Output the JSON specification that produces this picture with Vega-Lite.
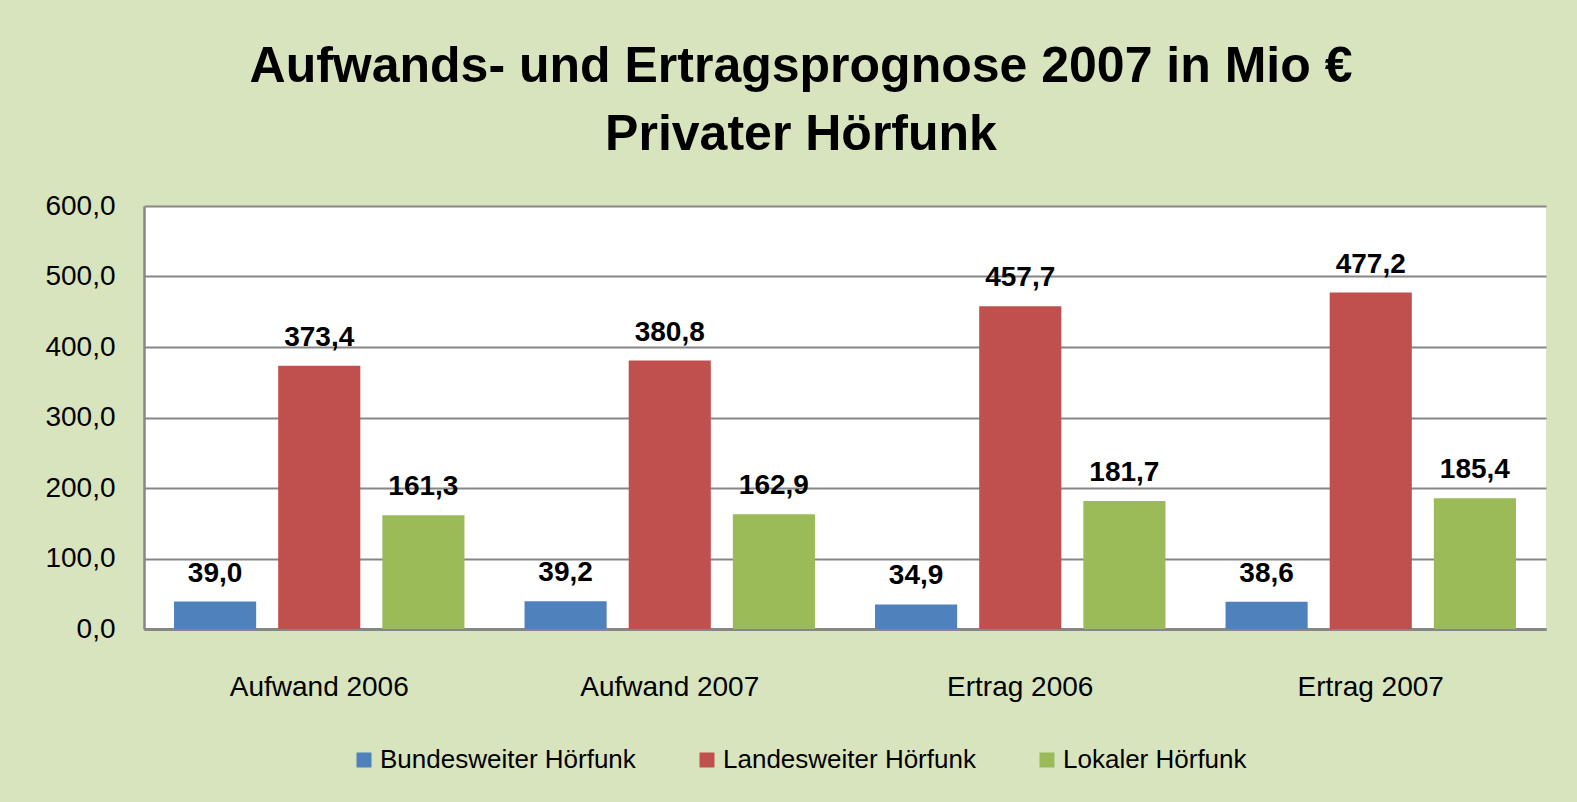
{
  "$schema": "https://vega.github.io/schema/vega-lite/v6.json",
  "width": 1402,
  "height": 423,
  "autosize": {"type": "none"},
  "padding": {"left": 144, "top": 206, "right": 31, "bottom": 173},
  "background": "#D8E4BD",
  "title": {
    "text": ["Aufwands- und Ertragsprognose 2007 in Mio €", "Privater Hörfunk"],
    "font": "Liberation Sans",
    "fontSize": 50,
    "fontWeight": "bold",
    "color": "#000000",
    "lineHeight": 68,
    "anchor": "middle",
    "offset": 32,
    "dx": -44
  },
  "data": {
    "values": [
      {"kategorie": "Aufwand 2006", "bereich": "Bundesweiter Hörfunk", "wert": 39.0},
      {"kategorie": "Aufwand 2006", "bereich": "Landesweiter Hörfunk", "wert": 373.4},
      {"kategorie": "Aufwand 2006", "bereich": "Lokaler Hörfunk", "wert": 161.3},
      {"kategorie": "Aufwand 2007", "bereich": "Bundesweiter Hörfunk", "wert": 39.2},
      {"kategorie": "Aufwand 2007", "bereich": "Landesweiter Hörfunk", "wert": 380.8},
      {"kategorie": "Aufwand 2007", "bereich": "Lokaler Hörfunk", "wert": 162.9},
      {"kategorie": "Ertrag 2006", "bereich": "Bundesweiter Hörfunk", "wert": 34.9},
      {"kategorie": "Ertrag 2006", "bereich": "Landesweiter Hörfunk", "wert": 457.7},
      {"kategorie": "Ertrag 2006", "bereich": "Lokaler Hörfunk", "wert": 181.7},
      {"kategorie": "Ertrag 2007", "bereich": "Bundesweiter Hörfunk", "wert": 38.6},
      {"kategorie": "Ertrag 2007", "bereich": "Landesweiter Hörfunk", "wert": 477.2},
      {"kategorie": "Ertrag 2007", "bereich": "Lokaler Hörfunk", "wert": 185.4}
    ]
  },
  "encoding": {
    "x": {
      "field": "kategorie",
      "type": "nominal",
      "sort": ["Aufwand 2006", "Aufwand 2007", "Ertrag 2006", "Ertrag 2007"],
      "scale": {"paddingInner": 0.1714, "paddingOuter": 0.0857},
      "axis": {
        "title": null,
        "labelAngle": 0,
        "labelFont": "Liberation Sans",
        "labelFontSize": 28,
        "labelColor": "#000000",
        "labelPadding": 44,
        "ticks": false,
        "domain": true,
        "domainColor": "#868686",
        "domainWidth": 3,
        "grid": false
      }
    },
    "xOffset": {
      "field": "bereich",
      "type": "nominal",
      "sort": ["Bundesweiter Hörfunk", "Landesweiter Hörfunk", "Lokaler Hörfunk"],
      "scale": {"paddingInner": 0.2115, "paddingOuter": 0}
    },
    "y": {
      "field": "wert",
      "type": "quantitative",
      "scale": {"domain": [0, 600], "nice": false},
      "axis": {
        "title": null,
        "values": [0, 100, 200, 300, 400, 500, 600],
        "format": ".1f",
        "labelFont": "Liberation Sans",
        "labelFontSize": 28,
        "labelColor": "#000000",
        "labelPadding": 29,
        "ticks": false,
        "domain": true,
        "domainColor": "#868686",
        "domainWidth": 2.5,
        "grid": true,
        "gridColor": "#868686",
        "gridWidth": 2
      }
    },
    "color": {
      "field": "bereich",
      "type": "nominal",
      "sort": ["Bundesweiter Hörfunk", "Landesweiter Hörfunk", "Lokaler Hörfunk"],
      "scale": {
        "domain": ["Bundesweiter Hörfunk", "Landesweiter Hörfunk", "Lokaler Hörfunk"],
        "range": ["#4F81BD", "#C0504D", "#9BBB59"]
      },
      "legend": {
        "title": null,
        "orient": "none",
        "direction": "horizontal",
        "legendX": 207,
        "legendY": 541,
        "symbolType": "square",
        "symbolSize": 225,
        "symbolStrokeWidth": 0,
        "symbolOpacity": 1,
        "labelFont": "Liberation Sans",
        "labelFontSize": 26,
        "labelColor": "#000000",
        "labelLimit": 1000,
        "labelOffset": 3,
        "columnPadding": 58,
        "padding": 0
      }
    }
  },
  "layer": [
    {"mark": {"type": "bar", "opacity": 1}},
    {
      "mark": {
        "type": "text",
        "dy": -20,
        "baseline": "alphabetic",
        "font": "Liberation Sans",
        "fontSize": 28,
        "fontWeight": "bold",
        "color": "#000000"
      },
      "encoding": {
        "text": {"field": "wert", "type": "quantitative", "format": ".1f"},
        "color": {"value": "#000000"}
      }
    }
  ],
  "config": {
    "locale": {
      "number": {"decimal": ",", "thousands": ".", "grouping": [3], "currency": ["", " €"]}
    },
    "view": {"fill": "#FFFFFF", "stroke": null}
  }
}
